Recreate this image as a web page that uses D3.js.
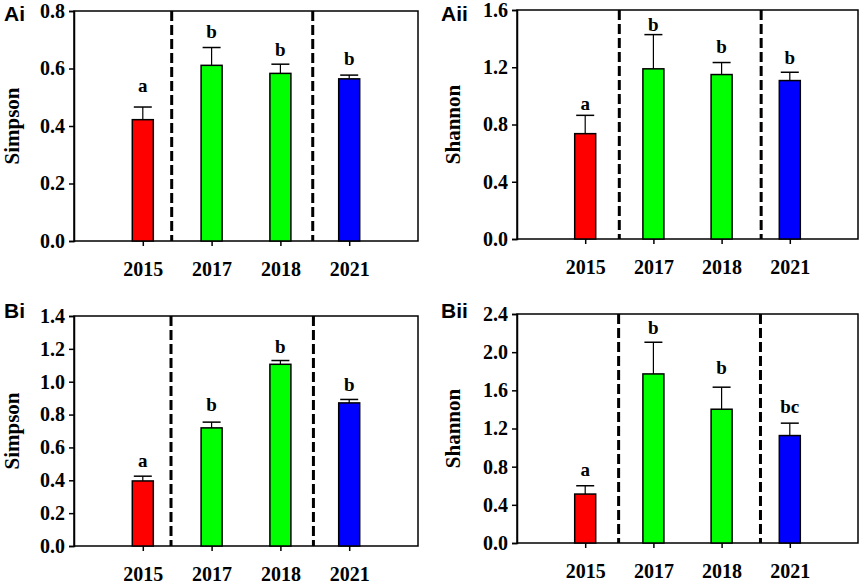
<!DOCTYPE html>
<html>
<head>
<meta charset="utf-8">
<script src="https://cdn.jsdelivr.net/npm/d3@7"></script>
<style>
  body { margin: 0; background: #fff; }
  text { font-family: "Liberation Serif", "Times New Roman", serif; font-weight: bold; }
  .panel-label { font-family: "Liberation Sans", Arial, sans-serif; }
</style>
</head>
<body>
<div id="chart"></div>
<script>
// categories and colours
var years = ["2015", "2017", "2018", "2021"];
var barColors = ["#ff0000", "#00ff00", "#00ff00", "#0000ff"];

// panel Ai (Simpson)
var aiMeans = [0.422, 0.611, 0.583, 0.564];
var aiErrors = [0.044, 0.062, 0.032, 0.013];
var aiLetters = ["a", "b", "b", "b"];
var aiTicks = [0.0, 0.2, 0.4, 0.6, 0.8];
var aiDividers = [1.42, 3.47];

// panel Aii (Shannon)
var aiiMeans = [0.736, 1.189, 1.149, 1.107];
var aiiErrors = [0.128, 0.239, 0.084, 0.058];
var aiiLetters = ["a", "b", "b", "b"];
var aiiTicks = [0.0, 0.4, 0.8, 1.2, 1.6];
var aiiDividers = [1.50, 3.58];

// panel Bi (Simpson)
var biMeans = [0.396, 0.719, 1.106, 0.871];
var biErrors = [0.029, 0.035, 0.023, 0.021];
var biLetters = ["a", "b", "b", "b"];
var biTicks = [0.0, 0.2, 0.4, 0.6, 0.8, 1.0, 1.2, 1.4];
var biDividers = [1.41, 3.48];

// panel Bii (Shannon)
var biiMeans = [0.513, 1.772, 1.402, 1.126];
var biiErrors = [0.087, 0.332, 0.231, 0.130];
var biiLetters = ["a", "b", "b", "bc"];
var biiTicks = [0.0, 0.4, 0.8, 1.2, 1.6, 2.0, 2.4];
var biiDividers = [1.49, 3.57];

// layout only: plot boxes, label spots, gap between error cap and letter
var panels = [
  {label: "Ai",  ylabel: "Simpson", means: aiMeans,  errors: aiErrors,  letters: aiLetters,  ticks: aiTicks,  dividers: aiDividers,
   box: {left: 74, top: 11, width: 344, height: 230}, labelX: 4, labelY: 21, titleX: 12, gaps: [15, 10, 8, 10]},
  {label: "Aii", ylabel: "Shannon", means: aiiMeans, errors: aiiErrors, letters: aiiLetters, ticks: aiiTicks, dividers: aiiDividers,
   box: {left: 517, top: 10, width: 341, height: 229}, labelX: 441, labelY: 21, titleX: 453, gaps: [5, 4, 10, 8]},
  {label: "Bi",  ylabel: "Simpson", means: biMeans,  errors: biErrors,  letters: biLetters,  ticks: biTicks,  dividers: biDividers,
   box: {left: 74, top: 316, width: 344, height: 230}, labelX: 4, labelY: 318, titleX: 12, gaps: [9, 11, 8, 8]},
  {label: "Bii", ylabel: "Shannon", means: biiMeans, errors: biiErrors, letters: biiLetters, ticks: biiTicks, dividers: biiDividers,
   box: {left: 517, top: 314, width: 341, height: 229}, labelX: 441, labelY: 318, titleX: 453, gaps: [10, 8, 13, 10]}
];

var W = 865, H = 584;
var svg = d3.select("#chart").append("svg")
  .attr("width", W)
  .attr("height", H);

panels.forEach(function(p) {
  var b = p.box;
  var g = svg.append("g").attr("transform", `translate(${b.left},${b.top})`);

  var x = d3.scaleLinear().domain([0, 5]).range([0, b.width]);
  var y = d3.scaleLinear().domain([0, d3.max(p.ticks)]).range([b.height, 0]);
  var barW = 21;
  var data = years.map((yr, i) => ({year: yr, pos: i + 1, mean: p.means[i], err: p.errors[i],
    letter: p.letters[i], color: barColors[i], gap: p.gaps[i]}));

  // frame
  g.append("rect")
    .attr("width", b.width).attr("height", b.height)
    .attr("fill", "none").attr("stroke", "#000").attr("stroke-width", 1.5);

  // dashed dividers
  g.selectAll(".divider")
    .data(p.dividers)
    .join("line")
      .attr("x1", d => x(d)).attr("x2", d => x(d))
      .attr("y1", 0).attr("y2", b.height)
      .attr("stroke", "#000").attr("stroke-width", 3)
      .attr("stroke-dasharray", "10,4");

  // error bars (upper only)
  g.selectAll(".err")
    .data(data)
    .join("line")
      .attr("x1", d => x(d.pos)).attr("x2", d => x(d.pos))
      .attr("y1", d => y(d.mean)).attr("y2", d => y(d.mean + d.err))
      .attr("stroke", "#000").attr("stroke-width", 1.2);
  g.selectAll(".cap")
    .data(data)
    .join("line")
      .attr("x1", d => x(d.pos) - 9).attr("x2", d => x(d.pos) + 9)
      .attr("y1", d => y(d.mean + d.err)).attr("y2", d => y(d.mean + d.err))
      .attr("stroke", "#000").attr("stroke-width", 1.5);

  // bars
  g.selectAll(".bar")
    .data(data)
    .join("rect")
      .attr("x", d => x(d.pos) - barW / 2)
      .attr("y", d => y(d.mean))
      .attr("width", barW)
      .attr("height", d => y(0) - y(d.mean))
      .attr("fill", d => d.color)
      .attr("stroke", "#000").attr("stroke-width", 1.5);

  // significance letters
  g.selectAll(".letter")
    .data(data)
    .join("text")
      .attr("x", d => x(d.pos))
      .attr("y", d => y(d.mean + d.err) - d.gap)
      .attr("text-anchor", "middle")
      .style("font-size", "19px")
      .text(d => d.letter);

  // y axis
  var yAxis = g.append("g")
    .call(d3.axisLeft(y).tickValues(p.ticks).tickFormat(d3.format(".1f")).tickSize(5).tickPadding(4));
  yAxis.select(".domain").attr("stroke-width", 1.5);
  yAxis.selectAll("line").attr("stroke-width", 1.5);
  yAxis.selectAll("text").style("font-size", "20px").style("font-family", "Liberation Serif, serif").style("font-weight", "bold");

  // x axis
  var xAxis = g.append("g")
    .attr("transform", `translate(0,${b.height})`)
    .call(d3.axisBottom(x).tickValues([1, 2, 3, 4]).tickFormat(d => years[d - 1]).tickSize(5).tickPadding(16));
  xAxis.select(".domain").remove();
  xAxis.selectAll("line").attr("stroke-width", 1.5);
  xAxis.selectAll("text").style("font-size", "20px").style("font-family", "Liberation Serif, serif").style("font-weight", "bold");

  // y axis title
  svg.append("text")
    .attr("transform", `translate(${p.titleX},${b.top + b.height / 2}) rotate(-90)`)
    .attr("text-anchor", "middle")
    .attr("dy", "0.35em")
    .style("font-size", "21px")
    .text(p.ylabel);

  // panel label
  svg.append("text")
    .attr("class", "panel-label")
    .attr("x", p.labelX)
    .attr("y", p.labelY)
    .style("font-size", "21px")
    .text(p.label);
});
</script>
</body>
</html>
